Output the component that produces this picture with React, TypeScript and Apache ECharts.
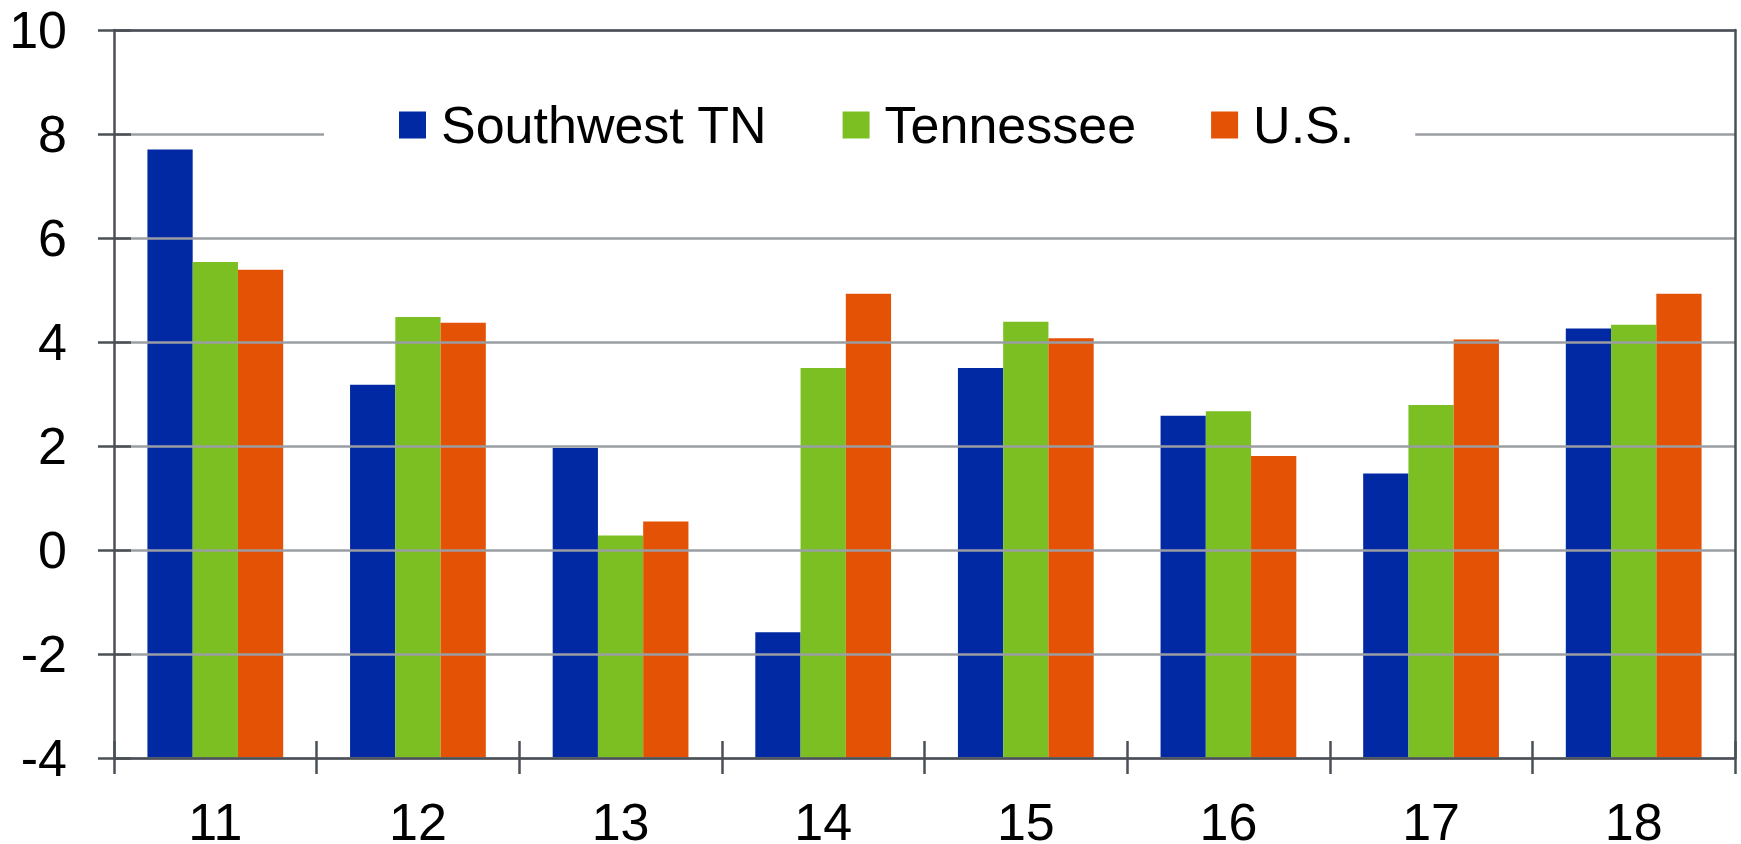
import React, { useEffect, useRef } from "react";
import * as echarts from "echarts";

const categories = ["11", "12", "13", "14", "15", "16", "17", "18"];
const southwestTN = [7.7, 3.18, 1.96, -1.58, 3.5, 2.58, 1.47, 4.26];
const tennessee = [5.54, 4.48, 0.28, 3.5, 4.39, 2.67, 2.79, 4.33];
const us = [5.39, 4.37, 0.55, 4.93, 4.07, 1.81, 4.05, 4.93];
const seriesNames = ["Southwest TN", "Tennessee", "U.S."];
const seriesColors = ["#0029A3", "#7BBF22", "#E35205"];
const yMin = -4;
const yMax = 10;
const yStep = 2;

const FONT = "'Liberation Sans', Arial, sans-serif";
const DARK = "#4B5057";
const GRIDC = "#9A9EA3";

export default function App() {
  const ref = useRef<HTMLDivElement>(null);
  useEffect(() => {
    if (!ref.current) return;
    const chart = echarts.init(ref.current, null, { renderer: "svg" });
    const values = [southwestTN, tennessee, us];
    chart.setOption({
      animation: false,
      backgroundColor: "#ffffff",
      textStyle: { fontFamily: FONT },
      grid: { left: 114, right: 6, top: 30, bottom: 86, containLabel: false, outerBoundsMode: "none" },
      legend: {
        left: 324,
        top: 89,
        z: 20,
        padding: [10, 61, 10, 75],
        backgroundColor: "#ffffff",
        itemWidth: 27,
        itemHeight: 27,
        itemGap: 75,
        icon: "rect",
        textStyle: { fontSize: 52, color: "#000", fontFamily: FONT, padding: [0, 0, 0, 10] },
        data: seriesNames,
      },
      xAxis: [
        {
          type: "category",
          data: categories,
          position: "bottom",
          axisLine: { show: true, onZero: false, lineStyle: { color: DARK, width: 2.5 } },
          axisTick: { show: true, length: 16, lineStyle: { color: DARK, width: 2.5 } },
          axisLabel: { fontSize: 52, lineHeight: 36, color: "#000", margin: 46, fontFamily: FONT },
          z: 5,
        },
        {
          type: "category",
          data: categories,
          position: "bottom",
          axisLine: { show: false, onZero: false },
          axisTick: { show: true, inside: true, length: 17, lineStyle: { color: DARK, width: 2.5 } },
          axisLabel: { show: false },
          z: 5,
        },
        {
          type: "category",
          data: categories,
          position: "top",
          axisLine: { show: true, onZero: false, lineStyle: { color: DARK, width: 2.5 } },
          axisTick: { show: false },
          axisLabel: { show: false },
          z: 5,
        },
      ],
      yAxis: [
        {
          type: "value",
          min: yMin,
          max: yMax,
          interval: yStep,
          startValue: yMin,
          position: "left",
          axisLine: { show: true, lineStyle: { color: DARK, width: 2.5 } },
          axisTick: { show: true, length: 16, lineStyle: { color: DARK, width: 2.5 } },
          axisLabel: { fontSize: 52, color: "#000", margin: 47, fontFamily: FONT },
          splitLine: { show: true, lineStyle: { color: GRIDC, width: 2.5 } },
          z: 5,
        },
        {
          type: "value",
          min: yMin,
          max: yMax,
          interval: yStep,
          position: "left",
          axisLine: { show: false },
          axisTick: { show: true, inside: true, length: 17, lineStyle: { color: DARK, width: 2.5 } },
          axisLabel: { show: false },
          splitLine: { show: false },
          z: 5,
        },
        {
          type: "value",
          min: yMin,
          max: yMax,
          interval: yStep,
          position: "right",
          axisLine: { show: true, lineStyle: { color: DARK, width: 2.5 } },
          axisTick: { show: false },
          axisLabel: { show: false },
          splitLine: { show: false },
          z: 5,
        },
      ],
      series: seriesNames.map((name, i) => ({
        name,
        type: "bar",
        xAxisIndex: 0,
        yAxisIndex: 0,
        data: values[i],
        barGap: "0%",
        barCategoryGap: "33%",
        itemStyle: { color: seriesColors[i] },
        z: 2,
      })),
    });
    return () => chart.dispose();
  }, []);
  return (
    <div
      ref={ref}
      style={{ position: "fixed", left: 0, top: 0, width: 1741, height: 844 }}
    />
  );
}
